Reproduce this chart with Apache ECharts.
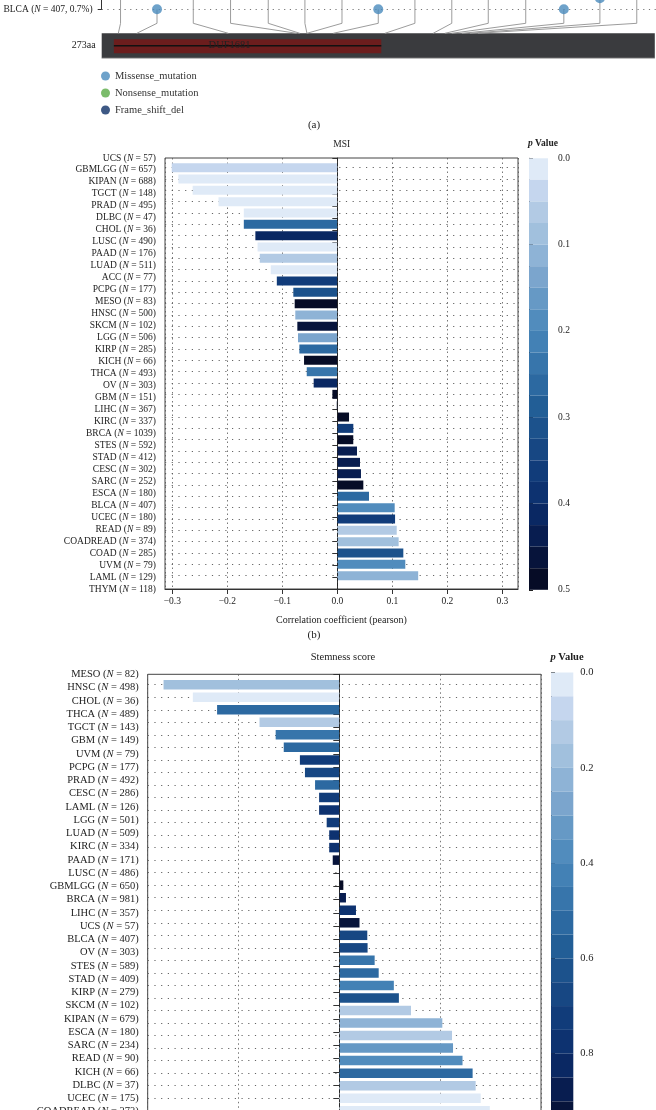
<!DOCTYPE html>
<html><head><meta charset="utf-8">
<script src="https://cdn.jsdelivr.net/npm/echarts@6/dist/echarts.min.js"></script>
<style>html,body{margin:0;padding:0;background:#fff}#c{width:656px;height:1110px}</style>
</head><body><div id="c"></div><script>
const FONT = "'Liberation Serif','Times New Roman',serif";

// ---------- (a) lollipop ----------
const proteinLength = 273;
const domainName = 'DUF1681';
const domainStart = 6, domainEnd = 138;
const rowName = 'BLCA', rowN = 407, rowFreq = '0.7%';
const mutDisplayAA = [9.3, 27.3, 45.2, 63.6, 82.2, 100.3, 118.6, 136.5, 154.6, 172.8, 190.8, 209.3, 228.1, 245.9, 264.1];
const mutActualAA  = [8.2, 17.3, 62.5, 96.2, 97.8, 101.3, 101.3, 114.3, 139.8, 163.6, 169.4, 172.8, 177.8, 181.7, 185.7];
const mutStartLevel = [100, 24, 100, 100, 100, 100, 100, 24, 100, 100, 100, 100, 24, 35, 100];
const legendNames = ['Missense_mutation', 'Nonsense_mutation', 'Frame_shift_del'];

// ---------- (b) MSI ----------
const msiCancers = ['UCS','GBMLGG','KIPAN','TGCT','PRAD','DLBC','CHOL','LUSC','PAAD','LUAD','ACC','PCPG','MESO','HNSC','SKCM','LGG','KIRP','KICH','THCA','OV','GBM','LIHC','KIRC','BRCA','STES','STAD','CESC','SARC','ESCA','BLCA','UCEC','READ','COADREAD','COAD','UVM','LAML','THYM'];
const msiN = [57,657,688,148,495,47,36,490,176,511,77,177,83,500,102,506,285,66,493,303,151,367,337,1039,592,412,302,252,180,407,180,89,374,285,79,129,118];
const msiR = [-0.301,-0.289,-0.263,-0.216,-0.170,-0.170,-0.149,-0.145,-0.141,-0.121,-0.110,-0.080,-0.0775,-0.0764,-0.0727,-0.0715,-0.069,-0.0605,-0.0556,-0.043,-0.009,-0.001,0.0213,0.0291,0.029,0.0358,0.0412,0.043,0.0473,0.0576,0.1043,0.105,0.108,0.1115,0.120,0.1236,0.147];
const msiP = [0.035,0.01,0.01,0.01,0.01,0.26,0.40,0.01,0.07,0.012,0.36,0.31,0.48,0.11,0.46,0.14,0.26,0.49,0.24,0.41,0.49,0.45,0.48,0.36,0.48,0.44,0.44,0.44,0.49,0.26,0.19,0.36,0.06,0.085,0.31,0.19,0.11];
const msiPTicks = [0, 0.5];

// ---------- (c) Stemness ----------
const stemCancers = ['MESO','HNSC','CHOL','THCA','TGCT','GBM','UVM','PCPG','PRAD','CESC','LAML','LGG','LUAD','KIRC','PAAD','LUSC','GBMLGG','BRCA','LIHC','UCS','BLCA','OV','STES','STAD','KIRP','SKCM','KIPAN','ESCA','SARC','READ','KICH','DLBC','UCEC','COADREAD','COAD','ACC','THYM'];
const stemN = [82,498,36,489,143,149,79,177,492,286,126,501,509,334,171,486,650,981,357,57,407,303,589,409,279,102,679,180,234,90,66,37,175,373,282,77,118];
const stemR = [-0.174,-0.145,-0.121,-0.079,-0.063,-0.055,-0.039,-0.034,-0.024,-0.020,-0.020,-0.0125,-0.010,-0.010,-0.0065,0.0005,0.004,0.0066,0.0165,0.020,0.0277,0.028,0.035,0.039,0.054,0.059,0.071,0.102,0.1116,0.1126,0.122,0.132,0.135,0.140,0.149,null,null];
const stemP = [0.17,0.02,0.52,0.12,0.47,0.52,0.72,0.67,0.53,0.71,0.77,0.73,0.78,0.78,0.92,0.98,0.97,0.88,0.78,0.93,0.67,0.67,0.47,0.52,0.42,0.62,0.12,0.22,0.13,0.32,0.37,0.52,0.12,0.02,0.01,null,null];
const stemPTicks = [0, 1.0];

const pPalette = ['#dfeaf7','#c5d6ee','#b2cae4','#a1c0dd','#8eb3d6','#7ba5cd','#6699c5','#518cbd','#4381b5','#3775ab','#2c69a1','#225e96','#1c528c','#174783','#113c7a','#0d3270','#0a2863','#081d50','#07143b','#060c26'];

function pieces(max) {
  const step = max / pPalette.length;
  return pPalette.map((c, i) => i === pPalette.length - 1
    ? { gte: i * step, lte: max, color: c }
    : { gte: i * step, lt: (i + 1) * step, color: c });
}
function richLabel(names, ns) {
  return (v, i) => `{t|${names[i]} (}{i|N}{t| = ${ns[i]})}`;
}
function rich(size) {
  return {
    t: { fontFamily: FONT, fontSize: size, color: '#222' },
    i: { fontFamily: FONT, fontSize: size, color: '#222', fontStyle: 'italic' }
  };
}
const fmt1 = v => (v < 0 ? '\u2212' : '') + Math.abs(v).toFixed(1);

const levels = { barTop: 0, barBottom: -25, domTop: -6, domBottom: -20, domMid: -12.4, bend: 10 };

const chart = echarts.init(document.getElementById('c'), null, { renderer: 'canvas' });

const hiddenX = (gi, min, max) => ({ gridIndex: gi, type: 'value', min, max, show: false });
const G = o => Object.assign({ outerBoundsMode: 'none', containLabel: false }, o);

const option = {
  backgroundColor: '#fff',
  animation: false,
  title: [
    { text: '(a)', left: 314, top: 125, textAlign: 'center', textVerticalAlign: 'middle', padding: 0, textStyle: { fontFamily: FONT, fontSize: 11, fontWeight: 'normal', color: '#222' } },
    { text: 'MSI', left: 341.7, top: 144, textAlign: 'center', textVerticalAlign: 'middle', padding: 0, textStyle: { fontFamily: FONT, fontSize: 9.5, fontWeight: 'normal', color: '#222' } },
    { text: '{i|p}{t| Value}', left: 543, top: 144, textAlign: 'center', textVerticalAlign: 'middle', padding: 0, textStyle: { rich: rich(9.5) } },
    { text: '(b)', left: 314, top: 635, textAlign: 'center', textVerticalAlign: 'middle', padding: 0, textStyle: { fontFamily: FONT, fontSize: 11, fontWeight: 'normal', color: '#222' } },
    { text: 'Stemness score', left: 343, top: 657, textAlign: 'center', textVerticalAlign: 'middle', padding: 0, textStyle: { fontFamily: FONT, fontSize: 10.5, fontWeight: 'normal', color: '#222' } },
    { text: '{i|p}{t| Value}', left: 567, top: 657, textAlign: 'center', textVerticalAlign: 'middle', padding: 0, textStyle: { rich: rich(10.5) } }
  ],
  legend: {
    data: legendNames, orient: 'vertical', left: 101, top: 70.5, padding: 0,
    itemWidth: 9, itemHeight: 9, itemGap: 6, icon: 'circle', selectedMode: false,
    textStyle: { fontFamily: FONT, fontSize: 10.5, color: '#333', lineHeight: 9 }
  },
  grid: [
    G({ left: 101.7, right: 0, top: -100, height: 109.3 }),               // 0 lollipop label
    G({ left: 101.7, right: 1.2, top: -66.7, height: 125 }),              // 1 lollipop data
    G({ left: 165, width: 353, top: 158, height: 431, show: true, borderColor: '#444', borderWidth: 1, backgroundColor: 'transparent' }), // 2 MSI frame
    G({ left: 165, width: 353, top: 167.7, height: 408 }),               // 3 MSI bars
    G({ left: 529, width: 21, top: 158.3, height: 431.5 }),              // 4 MSI colorbar axis
    G({ left: 147.7, width: 393.3, top: 674.3, height: 477, show: true, borderColor: '#444', borderWidth: 1, backgroundColor: 'transparent' }), // 5 stem frame
    G({ left: 147.7, width: 393.3, top: 684.7, height: 451.1 }),         // 6 stem bars
    G({ left: 551, width: 22.3, top: 672.5, height: 476.5 })             // 7 stem colorbar axis
  ],
  xAxis: [
    hiddenX(0, 0, 1),
    hiddenX(1, 0, proteinLength),
    {
      gridIndex: 2, type: 'value', min: -0.3133, max: 0.3285, splitNumber: 6,
      name: 'Correlation coefficient (pearson)', nameLocation: 'middle', nameGap: 26,
      nameTextStyle: { fontFamily: FONT, fontSize: 10, color: '#222' },
      axisLine: { show: true, lineStyle: { color: '#333' } },
      axisTick: { show: true, length: 5, lineStyle: { color: '#333' } },
      axisLabel: { showMinLabel: false, showMaxLabel: false, formatter: fmt1, fontFamily: FONT, fontSize: 9.5, color: '#222', margin: 7 },
      splitLine: { show: true, lineStyle: { type: [1.5, 3], color: '#555', width: 0.8 } }
    },
    hiddenX(3, -0.3133, 0.3285),
    hiddenX(4, 0, 1),
    {
      gridIndex: 5, type: 'value', min: -0.1897, max: 0.1997, splitNumber: 4,
      axisLine: { show: true, lineStyle: { color: '#333' } },
      axisTick: { show: true, length: 5, lineStyle: { color: '#333' } },
      axisLabel: { showMinLabel: false, showMaxLabel: false, formatter: fmt1, fontFamily: FONT, fontSize: 10.5, color: '#222', margin: 7 },
      splitLine: { show: true, lineStyle: { type: [1.5, 3], color: '#555', width: 0.8 } }
    },
    hiddenX(6, -0.1897, 0.1997),
    hiddenX(7, 0, 1)
  ],
  yAxis: [
    {
      gridIndex: 0, type: 'value', min: 0, max: 1, interval: 1,
      axisLine: { show: true, lineStyle: { color: '#333' } },
      axisTick: { show: true, length: 4, lineStyle: { color: '#333' } },
      axisLabel: { margin: 9, formatter: v => v === 0 ? `{t|${rowName} (}{i|N}{t| = ${rowN}, ${rowFreq})}` : '', rich: rich(9.5) },
      splitLine: { show: true, lineStyle: { type: [1.2, 4.5], color: '#777', width: 1 } }
    },
    { gridIndex: 1, type: 'value', min: levels.barBottom, max: 100, show: false },
    {
      gridIndex: 2, type: 'category', data: msiCancers, inverse: true, boundaryGap: false,
      axisLine: { show: true, lineStyle: { color: '#333' } },
      axisTick: { show: true, length: 5, interval: 0, lineStyle: { color: '#333' } },
      axisLabel: { interval: 0, margin: 9, formatter: richLabel(msiCancers, msiN), rich: rich(9.5) },
      splitLine: { show: false }
    },
    {
      gridIndex: 3, type: 'category', data: msiCancers, inverse: true, boundaryGap: false,
      axisLine: { show: false }, axisTick: { show: false }, axisLabel: { show: false },
      splitLine: { show: true, interval: 0, lineStyle: { type: [1.2, 5.5], color: '#666', width: 1 } }
    },
    {
      gridIndex: 4, type: 'value', min: msiPTicks[0], max: msiPTicks[1], interval: 0.1, inverse: true, position: 'right',
      axisLine: { show: true, lineStyle: { color: '#222' } },
      axisTick: { show: true, length: 4, lineStyle: { color: '#222' } },
      axisLabel: { formatter: v => v.toFixed(1), fontFamily: FONT, fontSize: 9.5, color: '#222', margin: 8 },
      splitLine: { show: false }
    },
    {
      gridIndex: 5, type: 'category', data: stemCancers, inverse: true, boundaryGap: false,
      axisLine: { show: true, lineStyle: { color: '#333' } },
      axisTick: { show: true, length: 6, interval: 0, lineStyle: { color: '#333' } },
      axisLabel: { interval: 0, margin: 9, formatter: richLabel(stemCancers, stemN), rich: rich(10.5) },
      splitLine: { show: false }
    },
    {
      gridIndex: 6, type: 'category', data: stemCancers, inverse: true, boundaryGap: false,
      axisLine: { show: false }, axisTick: { show: false }, axisLabel: { show: false },
      splitLine: { show: true, interval: 0, lineStyle: { type: [1.2, 5.5], color: '#666', width: 1 } }
    },
    {
      gridIndex: 7, type: 'value', min: stemPTicks[0], max: stemPTicks[1], interval: 0.2, inverse: true, position: 'right',
      axisLine: { show: true, lineStyle: { color: '#222' } },
      axisTick: { show: true, length: 4, lineStyle: { color: '#222' } },
      axisLabel: { formatter: v => v.toFixed(1), fontFamily: FONT, fontSize: 10.5, color: '#222', margin: 7 },
      splitLine: { show: false }
    }
  ],
  visualMap: [
    {
      type: 'piecewise', seriesIndex: 5, dimension: 2, pieces: pieces(msiPTicks[1]), inverse: true,
      orient: 'vertical', left: 529, top: 158.3, itemWidth: 19, itemHeight: 431.5 / 20, itemGap: 0,
      padding: 0, showLabel: false, selectedMode: false, hoverLink: false, itemSymbol: 'rect', text: null
    },
    {
      type: 'piecewise', seriesIndex: 7, dimension: 2, pieces: pieces(stemPTicks[1]), inverse: true,
      orient: 'vertical', left: 551, top: 672.5, itemWidth: 22.3, itemHeight: 476.5 / 20, itemGap: 0,
      padding: 0, showLabel: false, selectedMode: false, hoverLink: false, itemSymbol: 'rect', text: null
    }
  ],
  series: [
    { // 0 protein
      type: 'custom', xAxisIndex: 1, yAxisIndex: 1, clip: false, silent: true, z: 1,
      data: [[0, proteinLength, domainStart, domainEnd]],
      renderItem: function (params, api) {
        const a = api.coord([api.value(0), levels.barTop]);
        const b = api.coord([api.value(1), levels.barBottom]);
        const d0 = api.coord([api.value(2), levels.domTop]);
        const d1 = api.coord([api.value(3), levels.domBottom]);
        const m0 = api.coord([api.value(2), levels.domMid]);
        const m1 = api.coord([api.value(3), levels.domMid]);
        return { type: 'group', children: [
          { type: 'rect', shape: { x: a[0], y: a[1], width: b[0] - a[0], height: b[1] - a[1] }, style: { fill: '#3a3b3e' } },
          { type: 'line', shape: { x1: a[0], y1: b[1], x2: b[0], y2: b[1] }, style: { stroke: '#b8b8b8', lineWidth: 1 } },
          { type: 'rect', shape: { x: d0[0], y: d0[1], width: d1[0] - d0[0], height: d1[1] - d0[1] }, style: { fill: '#6c1d1d' } },
          { type: 'line', shape: { x1: m0[0], y1: m0[1], x2: m1[0], y2: m1[1] }, style: { stroke: '#111', lineWidth: 1.5 } },
          { type: 'text', x: (m0[0] + m1[0]) / 2 - 18, y: m0[1], style: { text: domainName, align: 'center', verticalAlign: 'middle', font: '10.5px ' + FONT, fill: '#222' } },
          { type: 'text', x: a[0] - 6, y: m0[1], style: { text: proteinLength + 'aa', align: 'right', verticalAlign: 'middle', font: '10px ' + FONT, fill: '#222' } }
        ] };
      }
    },
    { // 1 lollipop stems
      type: 'lines', coordinateSystem: 'cartesian2d', xAxisIndex: 1, yAxisIndex: 1, polyline: true, silent: true, z: 2,
      lineStyle: { color: '#9c9c9c', width: 1, opacity: 1 },
      data: mutDisplayAA.map((d, i) => ({ coords: [[d, mutStartLevel[i]], [d, levels.bend], [mutActualAA[i], levels.barTop]] }))
    },
    { // 2 missense heads
      name: legendNames[0], type: 'scatter', xAxisIndex: 1, yAxisIndex: 1, symbolSize: 10, z: 3,
      itemStyle: { color: '#4a8bbd' },
      data: mutDisplayAA.map((d, i) => [d, mutStartLevel[i]]).filter(p => p[1] < 100)
    },
    { name: legendNames[1], type: 'scatter', xAxisIndex: 1, yAxisIndex: 1, itemStyle: { color: '#5aab46' }, data: [] },
    { name: legendNames[2], type: 'scatter', xAxisIndex: 1, yAxisIndex: 1, itemStyle: { color: '#0e2f66' }, data: [] },
    { // 5 MSI bars
      type: 'bar', xAxisIndex: 3, yAxisIndex: 3, barWidth: 9, clip: false, z: 3,
      encode: { x: 0, y: 1 },
      data: msiR.map((v, i) => [v, i, msiP[i]])
    },
    { // 6 MSI zero line
      type: 'line', xAxisIndex: 2, yAxisIndex: 2, data: [], silent: true, z: 4,
      markLine: { silent: true, symbol: ['none', 'none'], label: { show: false }, animation: false,
        lineStyle: { color: '#222', type: [3, 2], width: 0.9 }, data: [{ xAxis: 0 }] }
    },
    { // 7 stemness bars
      type: 'bar', xAxisIndex: 6, yAxisIndex: 6, barWidth: 9.5, clip: false, z: 3,
      encode: { x: 0, y: 1 },
      data: stemR.map((v, i) => [v, i, stemP[i]])
    },
    { // 8 stem zero line
      type: 'line', xAxisIndex: 5, yAxisIndex: 5, data: [], silent: true, z: 4,
      markLine: { silent: true, symbol: ['none', 'none'], label: { show: false }, animation: false,
        lineStyle: { color: '#222', type: [3, 2], width: 0.9 }, data: [{ xAxis: 0 }] }
    }
  ]
};
chart.setOption(option);
</script></body></html>
